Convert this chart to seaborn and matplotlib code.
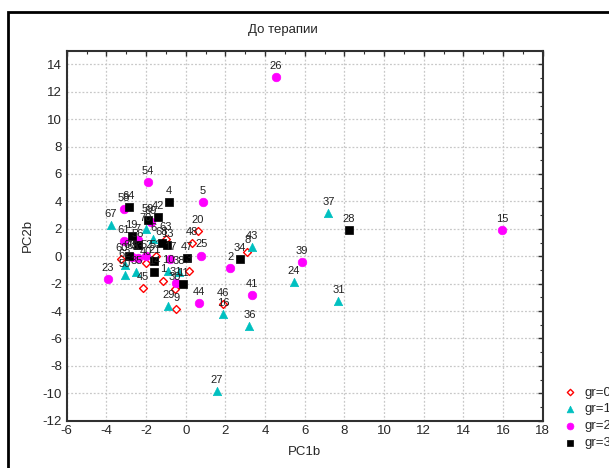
import matplotlib
matplotlib.use("Agg")
import matplotlib.pyplot as plt
import seaborn as sns
import pandas as pd
from matplotlib.patches import Rectangle
from matplotlib.ticker import MultipleLocator

# ---- data ----
g0_x = [0.60, 0.33, 3.11, 0.17, -1.13, -0.56, -0.47, 1.88, -0.99, -1.51, -2.02, -3.25, -2.15]
g0_y = [1.82, 0.93, 0.34, -1.05, -1.78, -2.36, -3.85, -3.48, 1.29, 0.02, -0.49, -0.22, -2.31]
g0_lab = ["20", "48", "8", "3", "1", "30", "9", "46", "63", "51", "40", "60", "45"]

g1_x = [7.19, 7.70, 5.45, 3.33, 3.21, 1.88, 1.56, -0.88, -0.88, -0.34, -3.77, -2.02, -1.63, -3.06, -3.06, -2.49]
g1_y = [3.12, -3.30, -1.90, 0.68, -5.09, -4.23, -9.83, -3.65, -1.07, -1.17, 2.26, 1.95, 1.24, -0.66, -1.39, -1.14]
g1_lab = ["37", "31", "24", "43", "36", "16", "27", "29", "10", "38", "67", "70", "6", "62", "50", "35"]

g2_x = [4.55, 15.97, 5.85, 3.36, 0.67, 2.25, 0.79, 0.86, -1.90, -3.11, -3.11, -3.93, -2.42, -2.69, -2.39, -1.98, -1.77, -0.79, -0.49]
g2_y = [13.07, 1.90, -0.42, -2.85, -3.45, -0.88, 0.05, 3.94, 5.42, 3.41, 1.09, -1.68, 1.17, -0.05, -0.12, 0.00, 2.50, -0.17, -1.95]
g2_lab = ["26", "15", "39", "41", "44", "2", "25", "5", "54", "58", "61", "23", "7", "65", "33", "52", "69", "17", "31"]

g3_x = [8.22, 2.75, 0.08, -0.12, -0.83, -2.86, -1.38, -1.90, -2.72, -2.42, -2.85, -1.58, -1.21, -0.93, -1.58]
g3_y = [1.90, -0.22, -0.12, -2.04, 3.96, 3.60, 2.87, 2.63, 1.46, 0.80, 0.02, -0.34, 0.93, 0.80, -1.14]
g3_lab = ["28", "34", "47", "11", "4", "64", "42", "59", "19", "56", "66", "21", "68", "13", "14"]

groups = ["gr=0", "gr=1", "gr=2", "gr=3"]

df = pd.concat([
    pd.DataFrame({"PC1b": g0_x, "PC2b": g0_y, "lab": g0_lab, "gr": groups[0]}),
    pd.DataFrame({"PC1b": g1_x, "PC2b": g1_y, "lab": g1_lab, "gr": groups[1]}),
    pd.DataFrame({"PC1b": g2_x, "PC2b": g2_y, "lab": g2_lab, "gr": groups[2]}),
    pd.DataFrame({"PC1b": g3_x, "PC2b": g3_y, "lab": g3_lab, "gr": groups[3]}),
], ignore_index=True)

sns.set_style("white")
plt.rcParams["font.family"] = ["Liberation Sans", "DejaVu Sans"]
plt.rcParams["axes.unicode_minus"] = False

fig = plt.figure(figsize=(6.09, 4.68), dpi=100)
ax = fig.add_axes([66.7 / 609, 1 - 420.6 / 468, (542.7 - 66.7) / 609, (420.6 - 50.7) / 468])

styles = {
    "gr=0": dict(marker="D", s=16, facecolor="white", edgecolor="#ff0000", linewidth=1.0),
    "gr=1": dict(marker="^", s=36, color="#00c0c0", edgecolor="#00c0c0", linewidth=0.5),
    "gr=2": dict(marker="o", s=38, color="#ff00ff", edgecolor="#ff00ff", linewidth=0.5),
    "gr=3": dict(marker="s", s=30, color="#000000", edgecolor="#000000", linewidth=0.5),
}
for g in groups:
    sub = df[df["gr"] == g]
    sns.scatterplot(data=sub, x="PC1b", y="PC2b", ax=ax, label=g, zorder=3, **styles[g])

for _, r in df.iterrows():
    ax.annotate(r["lab"], (r["PC1b"], r["PC2b"]), xytext=(0, 4.5), textcoords="offset points",
                ha="center", va="bottom", fontsize=8, color="#202020", zorder=4)

ax.set_xlim(-6, 18)
ax.set_ylim(-12, 15)
ax.xaxis.set_major_locator(MultipleLocator(2))
ax.yaxis.set_major_locator(MultipleLocator(2))
ax.xaxis.set_minor_locator(MultipleLocator(1))
ax.yaxis.set_minor_locator(MultipleLocator(1))
ax.grid(True, which="major", linestyle=(0, (1.5, 1.5)), color="#c8c8c8", linewidth=0.9)
ax.tick_params(which="both", direction="in", top=True, right=True, labelsize=9.5, color="#303030")
ax.tick_params(which="major", length=3.5, width=1.0)
ax.tick_params(which="minor", length=2, width=0.8)
for sp in ax.spines.values():
    sp.set_color("#303030")
    sp.set_linewidth(1.5)
ax.set_xlabel("PC1b", fontsize=9.5, labelpad=6)
ax.set_ylabel("PC2b", fontsize=9.5, labelpad=6)

leg = ax.legend(loc="upper left", bbox_to_anchor=(557 / 609, 1 - 381 / 468), bbox_transform=fig.transFigure,
                frameon=False, fontsize=9.5, handletextpad=0.5, labelspacing=0.35, borderaxespad=0,
                handlelength=1.2, markerscale=0.8)

fig.text(283 / 609, 1 - 30 / 468, "До терапии", ha="center", va="center", fontsize=9.5)
fig.patches.append(Rectangle((8 / 609, -0.05), 1.1, 1 - 12 / 468 + 0.05, transform=fig.transFigure,
                             fill=False, edgecolor="black", linewidth=2, figure=fig))

fig.savefig("out.png", dpi=100)
